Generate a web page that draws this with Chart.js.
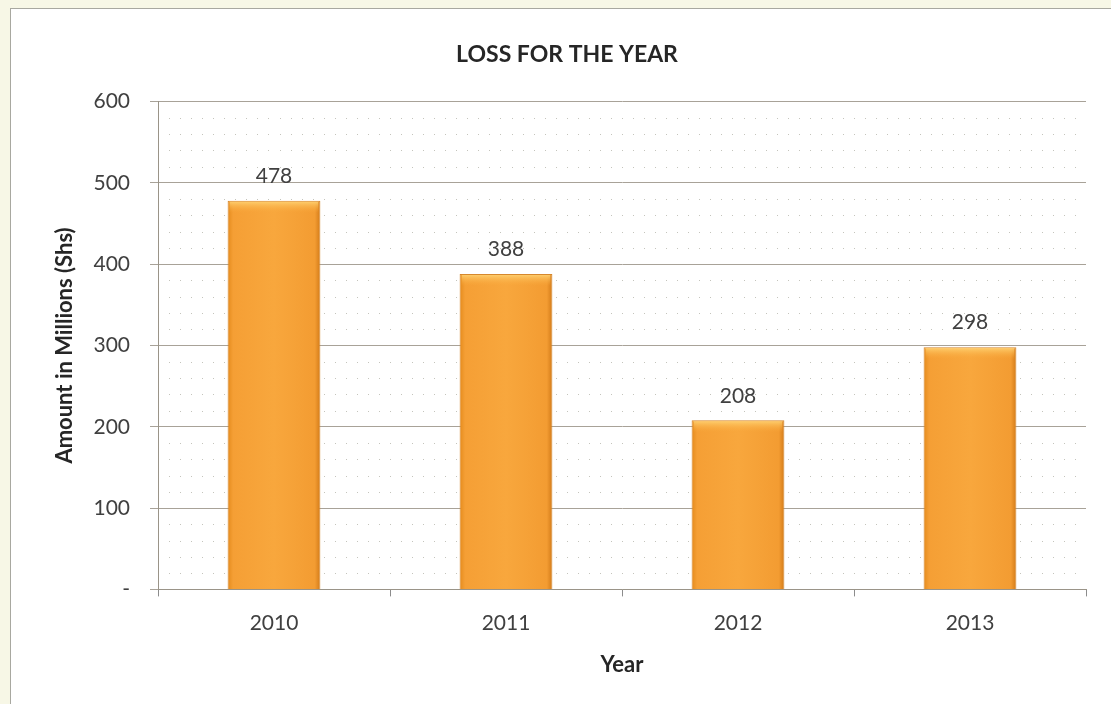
<!DOCTYPE html>
<html>
<head>
<meta charset="utf-8">
<script src="https://cdn.jsdelivr.net/npm/chart.js@4"></script>
<style>
  html, body { margin: 0; padding: 0; background: #f7f7e6; }
  #wrap { position: absolute; left: 0; top: 0; width: 1111px; height: 704px; }
</style>
</head>
<body>
<div id="wrap"><canvas id="lossChart" width="1111" height="704"></canvas></div>
<script>
// ---- data ----
const years = ['2010', '2011', '2012', '2013'];
const lossValues = [478, 388, 208, 298];
const yTicks = [0, 100, 200, 300, 400, 500, 600];

const FONT = 'Lato, "Liberation Sans", sans-serif';
const BAR_PCT = 0.4;

// white chart box with thin grey frame
const frame = {
    id: 'frame',
    beforeDraw(chart) {
        const c = chart.ctx;
        c.save();
        c.fillStyle = '#f7f7e6';
        c.fillRect(0, 0, chart.width, chart.height);
        c.fillStyle = '#ffffff';
        c.fillRect(10, 8, chart.width - 10, chart.height - 8);
        c.strokeStyle = '#a8a8a0';
        c.lineWidth = 1;
        c.strokeRect(10.5, 8.5, chart.width, chart.height);
        c.restore();
    }
};

// dotted minor grid like the office template
const dots = {
    id: 'dots',
    beforeDatasetsDraw(chart) {
        const { ctx, chartArea: a, scales } = chart;
        const y = scales.y;
        ctx.save();
        ctx.fillStyle = '#c4c4bc';
        const stepX = (a.right - a.left) / 84;
        for (let v = 20; v < 600; v += 20) {
            if (v % 100 === 0) continue;
            const py = Math.round(y.getPixelForValue(v));
            for (let px = a.left + stepX; px < a.right - 2; px += stepX) {
                ctx.fillRect(Math.round(px), py, 1, 1);
            }
        }
        ctx.restore();
    }
};

// bevel highlight on the bar tops + value labels
const barDecor = {
    id: 'barDecor',
    afterDatasetsDraw(chart) {
        const { ctx } = chart;
        const meta = chart.getDatasetMeta(0);
        ctx.save();
        meta.data.forEach((bar) => {
            const x0 = bar.x - bar.width / 2;
            const g = ctx.createLinearGradient(0, bar.y, 0, bar.y + 12);
            g.addColorStop(0, 'rgba(255,214,120,0.95)');
            g.addColorStop(1, 'rgba(250,170,60,0)');
            ctx.fillStyle = g;
            ctx.fillRect(x0 + 2, bar.y + 1, bar.width - 4, 12);
        });
        ctx.font = '21px ' + FONT;
        ctx.fillStyle = '#404040';
        ctx.textAlign = 'center';
        ctx.textBaseline = 'bottom';
        meta.data.forEach((bar, i) => {
            ctx.fillText(String(lossValues[i]), bar.x, bar.y - 14);
        });
        ctx.restore();
    }
};

const ctx = document.getElementById('lossChart').getContext('2d');

function barFill(context) {
    const chart = context.chart;
    const xs = chart.scales.x;
    if (!xs || !chart.chartArea || context.dataIndex === undefined) return '#f7a236';
    const cx = xs.getPixelForValue(context.dataIndex);
    const w = (xs.right - xs.left) / years.length * BAR_PCT;
    const x0 = cx - w / 2, x1 = cx + w / 2;
    if (!isFinite(x0)) return '#f7a236';
    const g = chart.ctx.createLinearGradient(x0, 0, x1, 0);
    g.addColorStop(0, '#e48a1c');
    g.addColorStop(0.06, '#f59f35');
    g.addColorStop(0.5, '#f8a73d');
    g.addColorStop(0.94, '#f39c32');
    g.addColorStop(1, '#d27a18');
    return g;
}

new Chart(ctx, {
    type: 'bar',
    data: {
        labels: years,
        datasets: [{
            data: lossValues,
            backgroundColor: barFill,
            borderColor: '#d4852a',
            borderWidth: 1,
            categoryPercentage: 1,
            barPercentage: BAR_PCT
        }]
    },
    plugins: [frame, dots, barDecor],
    options: {
        responsive: false,
        animation: false,
        events: [],
        layout: { padding: { left: 48, right: 25, top: 41, bottom: 22 } },
        plugins: {
            legend: { display: false },
            tooltip: { enabled: false },
            title: {
                display: true,
                text: 'LOSS FOR THE YEAR',
                color: '#262626',
                font: { family: FONT, size: 23, weight: 'bold' },
                padding: { top: 0, bottom: 33 }
            }
        },
        scales: {
            x: {
                grid: {
                    display: true,
                    offset: true,
                    drawOnChartArea: false,
                    drawTicks: true,
                    tickLength: 7,
                    color: '#8c8c8c'
                },
                border: { color: '#9a9488', width: 1 },
                ticks: {
                    color: '#404040',
                    font: { family: FONT, size: 21 },
                    padding: 14
                },
                title: {
                    display: true,
                    text: 'Year',
                    color: '#262626',
                    font: { family: FONT, size: 22, weight: 'bold' },
                    padding: { top: 2 }
                }
            },
            y: {
                min: 0,
                max: 600,
                afterBuildTicks(scale) {
                    scale.ticks = yTicks.map(v => ({ value: v }));
                },
                afterFit(scale) { scale.width = 110; },
                grid: {
                    color: '#a8a298',
                    lineWidth: 1,
                    drawTicks: true,
                    tickLength: 8
                },
                border: { color: '#9a9488', width: 1 },
                ticks: {
                    color: '#404040',
                    font: { family: FONT, size: 21 },
                    padding: 20,
                    callback: v => (v === 0 ? '-' : String(v))
                },
                title: {
                    display: true,
                    text: 'Amount in Millions (Shs)',
                    color: '#262626',
                    font: { family: FONT, size: 22, weight: 'bold' },
                    padding: { bottom: 6 }
                }
            }
        }
    }
});
</script>
</body>
</html>
